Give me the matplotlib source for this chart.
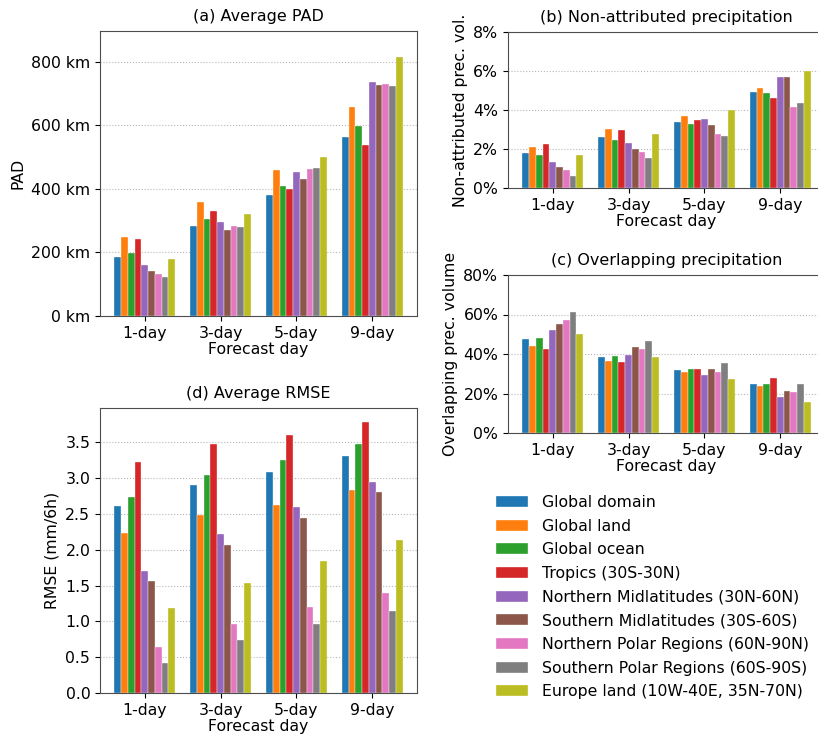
import numpy as np
import matplotlib
matplotlib.use("Agg")
import matplotlib.pyplot as plt
from matplotlib.ticker import PercentFormatter, FuncFormatter

plt.rcParams["font.family"] = "DejaVu Sans"
plt.rcParams["font.size"] = 11.3

days = ["1-day", "3-day", "5-day", "9-day"]
regions = [
    "Global domain",
    "Global land",
    "Global ocean",
    "Tropics (30S-30N)",
    "Northern Midlatitudes (30N-60N)",
    "Southern Midlatitudes (30S-60S)",
    "Northern Polar Regions (60N-90N)",
    "Southern Polar Regions (60S-90S)",
    "Europe land (10W-40E, 35N-70N)",
]
colors = ["tab:blue", "tab:orange", "tab:green", "tab:red", "tab:purple",
          "tab:brown", "tab:pink", "tab:gray", "tab:olive"]

# one row per region, one column per forecast day
pad_km = [
    [185, 283, 382, 564],
    [250, 358, 460, 658],
    [198, 304, 408, 598],
    [242, 331, 400, 538],
    [159, 295, 453, 737],
    [143, 270, 432, 727],
    [132, 284, 462, 731],
    [122, 280, 465, 725],
    [179, 320, 501, 816],
]
non_attr = [
    [1.79, 2.60, 3.37, 4.94],
    [2.11, 3.03, 3.69, 5.11],
    [1.70, 2.45, 3.30, 4.89],
    [2.26, 2.96, 3.49, 4.60],
    [1.33, 2.31, 3.54, 5.70],
    [1.07, 1.99, 3.22, 5.67],
    [0.94, 1.84, 2.79, 4.14],
    [0.63, 1.53, 2.66, 4.37],
    [1.70, 2.76, 4.00, 5.99],
]
overlap = [
    [47.4, 38.7, 32.1, 24.7],
    [44.1, 36.7, 31.0, 23.7],
    [48.2, 39.2, 32.6, 25.0],
    [42.3, 36.2, 32.6, 27.7],
    [51.9, 39.7, 29.4, 18.1],
    [55.0, 43.3, 32.6, 21.1],
    [57.2, 42.3, 31.0, 20.6],
    [61.4, 46.8, 35.2, 25.0],
    [50.1, 38.4, 27.2, 15.6],
]
rmse = [
    [2.61, 2.90, 3.09, 3.31],
    [2.23, 2.48, 2.63, 2.84],
    [2.73, 3.04, 3.25, 3.48],
    [3.23, 3.48, 3.60, 3.79],
    [1.70, 2.22, 2.60, 2.95],
    [1.57, 2.06, 2.44, 2.80],
    [0.64, 0.97, 1.20, 1.39],
    [0.42, 0.74, 0.97, 1.15],
    [1.18, 1.53, 1.84, 2.14],
]

W, H = 818, 738
fig = plt.figure(figsize=(W / 100, H / 100), dpi=100)


def px_axes(x0, y0, x1, y1):
    return fig.add_axes([x0 / W, 1 - y1 / H, (x1 - x0) / W, (y1 - y0) / H])


def grouped_bars(ax, values, title, ylabel):
    x = np.arange(len(days))
    n = len(values)
    width = 0.8 / n
    handles = []
    for i, (vals, c) in enumerate(zip(values, colors)):
        h = ax.bar(x - 0.4 + width * (i + 0.5), vals, width, color=c,
                   edgecolor="white", linewidth=0.25, label=regions[i], zorder=2)
        handles.append(h)
    ax.set_xticks(x)
    ax.set_xticklabels(days)
    ax.set_xlabel("Forecast day", labelpad=1)
    ax.set_ylabel(ylabel)
    ax.set_title(title, fontsize=11.5, pad=7)
    ax.grid(axis="y", linestyle=":", color="#b8b8b8", linewidth=0.8, zorder=0)
    ax.set_axisbelow(True)
    for s in ax.spines.values():
        s.set_color("0.3")
    return handles


ax_a = px_axes(100, 31, 417, 316)
grouped_bars(ax_a, pad_km, "(a) Average PAD", "PAD")
ax_a.set_ylim(0, 897)
ax_a.set_yticks([0, 200, 400, 600, 800])
ax_a.yaxis.set_major_formatter(FuncFormatter(lambda v, p: f"{v:.0f} km"))

ax_b = px_axes(508, 32, 825, 188)
grouped_bars(ax_b, non_attr, "(b) Non-attributed precipitation",
             "Non-attributed prec. vol.")
ax_b.set_ylim(0, 8)
ax_b.set_yticks([0, 2, 4, 6, 8])
ax_b.yaxis.set_major_formatter(PercentFormatter(100, decimals=0))

ax_c = px_axes(508, 275, 825, 433)
grouped_bars(ax_c, overlap, "(c) Overlapping precipitation",
             "Overlapping prec. volume")
ax_c.set_ylim(0, 80)
ax_c.set_yticks([0, 20, 40, 60, 80])
ax_c.yaxis.set_major_formatter(PercentFormatter(100, decimals=0))

ax_d = px_axes(100, 408, 417, 693)
handles = grouped_bars(ax_d, rmse, "(d) Average RMSE", "RMSE (mm/6h)")
ax_d.set_yticks(np.arange(0, 3.6, 0.5))

fig.legend(handles=handles, labels=regions, loc="upper left",
           bbox_to_anchor=(482 / W, 1 - 481 / H), frameon=False,
           fontsize=11.3, labelspacing=0.55, handlelength=2.0,
           handletextpad=0.9)

fig.savefig("out.png", dpi=100)
